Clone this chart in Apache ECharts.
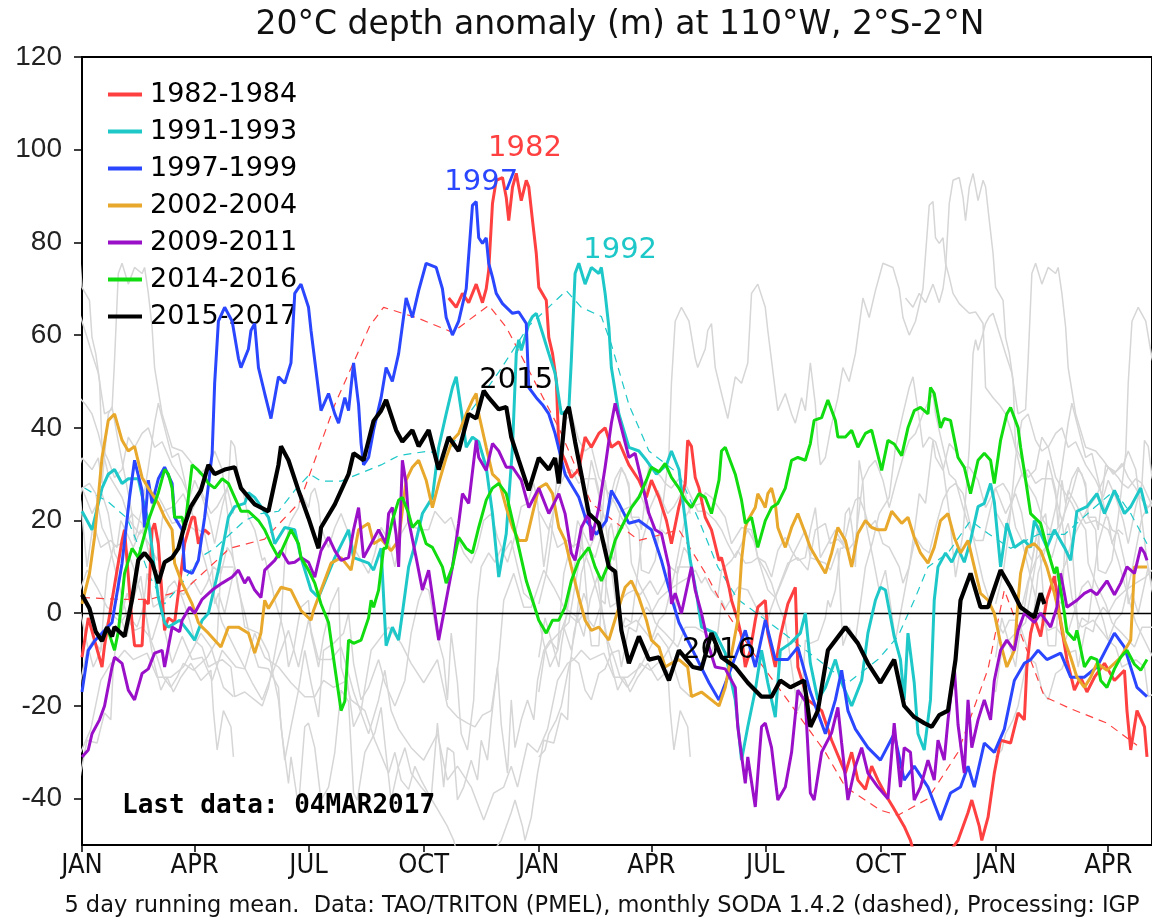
<!DOCTYPE html>
<html><head><meta charset="utf-8">
<script src="https://cdn.jsdelivr.net/npm/echarts@6/dist/echarts.min.js"></script>
<style>html,body{margin:0;padding:0;background:#fff}#c{width:1152px;height:922px}</style>
</head><body><div id="c"></div>
<script>
// ---- text ----
const titleText = '20°C depth anomaly (m) at 110°W, 2°S-2°N';
const footText = '5 day running mean.  Data: TAO/TRITON (PMEL), monthly SODA 1.4.2 (dashed), Processing: IGP';
const lastDataText = 'Last data: 04MAR2017';
// ---- axes (x in days since 1 Jan of first year) ----
const monthTicks = [0, 90, 181, 273, 365, 455, 546, 638, 730, 820];
const monthLabels = ['JAN','APR','JUL','OCT','JAN','APR','JUL','OCT','JAN','APR'];
const yTicks = [-40, -20, 0, 20, 40, 60, 80, 100, 120];
const seriesNames = ['1982-1984','1991-1993','1997-1999','2002-2004','2009-2011','2014-2016','2015-2017'];
const seriesColors = ['#ff4040','#1ec8c8','#2a46ff','#e8a82c','#9a10c8','#10dc10','#000000'];
// ---- values [day, metres] ----
const s1982 = [[0,-9.5],[5,-1],[16,-11.6],[18,-7],[24,2.8],[32,15.7],[34,18],[40,-2],[42,-7],[48,-7],[50,2.8],[53,2],[56,18],[58,19.4],[61,15],[66,-3.7],[69,-1],[74,-2],[82,15],[88,20.7],[90,20.7],[93,15],[96,17.2],[98,18],[102,17],[104,null],
[293,68],[299,66],[304,69],[309,67],[315,71],[320,67],[323,70],[325,74],[328,88.4],[331,93.4],[336,94],[339,89.7],[341,84.7],[344,91.9],[347,94.9],[351,89],[355,93.4],[357,92],[360,84.7],[363,77.6],[365,70.3],[371,67.5],[373,59.5],[376,56],[379,50.2],[381,35.8],[386,33],[391,29.3],[397,31],[402,38],[407,35.8],[413,38.8],[418,40],[423,35.8],[429,37],[437,32],[445,28.7],[451,25],[455,28.7],[461,25],[467,20],[471,15],[477,23],[482,28],[484,37.3],[487,36],[490,29.3],[493,27],[498,20.7],[503,18],[509,11.4],[511,12],[517,5.6],[519,2.8],[524,-1.5],[527,-5],[530,-11.6],[534,-8],[538,-1.5],[540,1.3],[546,2.8],[548,-4.3],[554,-11.6],[558,-5],[564,2],[570,5.6],[572,-11.6],[580,-18.7],[591,-21],[599,-27.4],[610,-34.5],[615,-30],[620,-36],[626,-38],[631,-33],[636,-36],[644,-40],[648,-41.8],[657,-46],[662,-49],[668,-55],[680,-58],[692,-52],[700,-49],[708,-43],[711,-40.3],[717,-46],[719,-49],[724,-44],[729,-34.5],[734,-27.4],[742,-28],[748,-21.5],[753,-23],[755,-11.6],[758,-4.3],[761,-1],[766,-5],[771,3],[777,8],[782,-2],[787,-10],[793,-16.6],[798,-13.8],[803,-17],[809,-13.8],[817,-10.8],[825,-14.5],[833,-12.3],[835,-21],[838,-29.5],[843,-21],[849,-24.5],[851,-31]];
const s1991 = [[0,22],[8,18],[16,27],[21,30],[26,31],[32,28],[37,29],[45,29],[50,23],[53,20],[56,14],[58,9.3],[61,3.4],[66,-2],[69,-3],[78,-1.5],[86,-4.3],[90,-5.8],[96,-1.5],[101,0],[109,9.3],[114,16.4],[117,20.7],[122,23],[130,23.7],[133,26],[138,25],[149,20.7],[154,15],[162,18.5],[170,18],[175,12],[183,5],[189,3.4],[202,12],[213,18],[217,12],[229,10.8],[233,9.3],[239,14],[243,-7],[248,-3],[253,-5.8],[256,0],[261,10],[267,15.7],[272,21.5],[280,25],[285,35.8],[291,43],[296,48.7],[299,51],[304,42],[307,35.8],[312,38],[317,37],[323,31.5],[328,21.5],[333,7.8],[339,17.2],[344,35.8],[347,56],[349,59],[351,56.7],[355,60.4],[357,62.5],[360,64],[363,64.7],[368,60.4],[373,56],[378,51.8],[383,43],[389,44],[391,54.5],[394,73.3],[397,75.5],[402,71],[407,74.6],[413,73.3],[415,74.6],[418,69],[421,61.7],[423,53],[429,43],[437,35.8],[445,35],[451,33],[459,30],[467,32],[471,35],[477,31],[480,24.4],[486,11.4],[491,4.3],[495,-3],[506,-4.3],[514,-8.6],[522,-18.7],[527,-31.7],[532,-24.5],[538,-16.6],[543,-8],[548,-15],[554,-22.4],[558,-8],[566,-6.5],[574,-4.3],[578,0],[582,-10.8],[588,-18.7],[594,-16],[602,-10],[607,-15],[615,-20],[623,-14.5],[628,-4.3],[634,2.8],[638,5.6],[642,5],[649,-5],[654,-10],[657,-18.7],[660,-4.3],[665,-15],[668,-26],[673,-29.5],[678,-18.7],[681,2.8],[684,10],[690,13],[695,11],[700,14],[705,11],[710,15.7],[716,23],[721,23.7],[726,28],[729,24],[734,10],[739,19.4],[745,14.2],[753,15.7],[758,14.2],[761,20],[766,17.2],[771,14.2],[777,18],[785,14.2],[790,11.4],[795,22],[803,23],[811,25.8],[817,21.5],[825,26.5],[833,21.5],[838,23],[846,27],[851,21.5]];
const s1997 = [[0,-17],[5,-8],[10,-6],[24,-2],[32,10.8],[38,25],[42,33],[48,26.5],[50,18.5],[53,28.7],[56,23.7],[61,29],[66,31.5],[72,28],[74,20.7],[80,18],[82,9.3],[88,8.6],[93,11.4],[98,20.7],[104,34.5],[106,49.6],[109,63],[114,66],[120,63],[125,55],[127,53],[133,57],[135,61],[138,62.5],[141,53],[146,47.4],[151,42],[157,51],[162,49.6],[167,54],[170,69],[175,71],[181,66],[183,61],[189,48],[191,43.7],[197,47.4],[202,43],[205,41],[210,46.5],[213,43.7],[217,54],[221,45],[223,36.6],[225,32],[229,33.6],[233,39.5],[239,46.5],[243,53],[248,50],[253,56],[259,68],[264,63.8],[269,69.6],[275,75.5],[283,74.6],[288,70],[291,63.8],[296,60],[301,63],[307,70],[312,88],[315,88.8],[317,81],[320,79.8],[323,81],[325,75.5],[328,72.5],[331,69],[336,66.8],[344,64.7],[349,65],[355,62.5],[357,48.7],[363,46.5],[368,45],[373,43],[378,38.8],[386,30],[397,25],[403,20],[411,17],[419,20],[423,26.5],[429,23.7],[437,19.4],[445,20],[455,18],[463,11.4],[471,3.4],[477,-2],[488,-8],[501,-15],[509,-18.7],[519,-11.6],[530,-3.7],[538,-11.6],[546,-1.5],[554,-10],[564,-10],[572,-7.3],[582,-17],[594,-26],[602,-18.7],[607,-12.3],[612,-21],[618,-25],[628,-29],[638,-31.7],[649,-26],[657,-36],[665,-33],[676,-37.5],[686,-44.6],[694,-38.8],[702,-37.5],[708,-33],[713,-37.5],[721,-28],[729,-30],[737,-25],[745,-14.5],[753,-10.8],[758,-10],[764,-8],[771,-10],[782,-8.6],[790,-13.8],[801,-13.8],[811,-11.6],[825,-4.3],[833,-7.3],[843,-16],[851,-18]];
const s2002 = [[0,2],[6,8.6],[10,16.4],[16,33.6],[21,41.6],[26,43],[32,37.3],[37,35],[42,36],[48,29.3],[53,27],[61,23.7],[66,20.7],[72,18],[74,10.8],[80,6.5],[88,2],[93,-2],[96,-3],[101,-4.3],[111,-7.3],[117,-3],[125,-3],[133,-4.3],[138,-8.6],[143,-4.3],[146,2.8],[149,1],[159,5.6],[167,5],[175,0.6],[183,-1.5],[185,0.6],[191,5],[199,10.8],[207,12],[215,9.3],[221,18],[229,19.4],[233,15],[239,16],[247,13.5],[253,15.7],[259,28.7],[264,31.5],[269,33],[275,28.7],[280,22.8],[285,28],[291,33.6],[296,37.3],[301,38.8],[307,43],[312,46],[315,47.4],[317,43],[323,35.8],[328,30],[333,28.7],[339,22.8],[344,18.5],[349,15.7],[355,15.7],[360,21.5],[365,27],[371,28],[376,25.8],[381,18.5],[386,15.7],[391,10],[397,3.4],[402,-1.5],[407,-3.7],[413,-3],[421,-5.8],[423,-4],[429,1.3],[434,5.6],[439,7],[445,3.4],[451,-1.5],[455,-5.8],[461,-7.3],[466,-11.6],[471,-10.8],[477,-10],[484,-11.6],[487,-18],[495,-17],[503,-18.7],[509,-20],[514,-16],[524,-1.5],[527,11.4],[530,18.5],[532,20],[538,22.8],[540,25.8],[543,24.4],[546,22.8],[548,25.8],[551,27],[554,23.7],[556,18.5],[562,14.2],[567,18.5],[572,21.5],[578,17.2],[582,14.2],[588,11.4],[594,8.6],[599,13],[604,18.5],[610,15.7],[615,10],[620,17.2],[626,20],[631,18.5],[636,18],[642,18],[647,22],[655,19.4],[660,20.7],[665,16.4],[670,13],[676,10.8],[681,14.2],[686,20],[692,21.5],[697,16.4],[702,13],[708,15.7],[713,10],[718,4.3],[724,2.8],[729,0],[734,-6.5],[739,-11.6],[745,-8],[748,2.8],[750,8.6],[755,14.2],[761,15],[766,13.5],[771,10],[777,4.3],[782,-1.5],[785,-5.8],[790,-9.5],[795,-13.8],[801,-16],[806,-13.8],[811,-10.8],[819,-12.3],[825,-10.8],[830,-9.5],[838,-5.8],[841,10],[846,10],[851,10]];
const s2009 = [[0,-31],[5,-29.5],[8,-26],[14,-23],[18,-20],[24,-11.6],[26,-9.5],[32,-10.8],[37,-16.6],[42,-18.7],[48,-13],[53,-12],[58,-8.6],[64,-8],[66,-11.6],[72,-3],[78,-4],[80,-1.5],[86,1.3],[90,0],[96,3],[104,5],[112,6.5],[120,7.8],[125,9.3],[130,6.5],[133,7.8],[138,5],[143,3.4],[146,9.3],[154,11.4],[159,13.5],[165,10.8],[170,11],[175,12],[181,11],[186,7.8],[191,13.5],[197,16.4],[202,13.5],[207,11.4],[213,12],[217,18],[221,22.8],[225,12],[231,15],[237,18],[243,15],[245,21.5],[248,22.8],[251,17],[253,10],[256,33],[259,28],[261,20],[267,12],[272,5],[277,9.3],[282,0],[285,-5.8],[291,2.8],[296,10],[301,19.4],[304,25.8],[309,23.7],[315,37.3],[317,33.6],[323,30.8],[328,36.6],[333,35],[339,31.5],[344,31.5],[351,28.7],[357,22.8],[365,27],[373,21.5],[381,25.8],[386,21.5],[391,13],[394,11.4],[399,18.5],[405,21.5],[407,15.7],[413,22.8],[418,31.5],[423,41],[426,45.3],[431,40],[437,33.6],[442,34.5],[447,28.7],[453,21.5],[458,18],[463,17.2],[469,10],[471,2],[474,4.3],[479,0],[487,10],[490,5],[495,0],[501,-7.3],[506,-11.6],[514,-12],[522,-16],[524,-24.5],[530,-36.7],[532,-31],[538,-41.8],[543,-24.5],[546,-23.7],[551,-29],[556,-40.3],[562,-37.5],[567,-30],[572,-16.6],[578,-19],[582,-38.8],[585,-40.3],[591,-30],[599,-25.8],[604,-20.3],[607,-28],[612,-40.3],[618,-33],[623,-29],[628,-34.5],[636,-37.5],[644,-40],[649,-23.7],[654,-37.5],[657,-29],[662,-30],[665,-40.3],[670,-37.5],[676,-31.7],[681,-36],[684,-27.4],[689,-31.7],[692,-23],[697,-11.6],[700,-24],[705,-34.5],[708,-18.7],[711,-29],[716,-23],[721,-18.7],[726,-23],[729,-14.5],[734,-8],[739,-5.8],[745,-8],[748,-3.7],[753,0],[761,-2],[766,0],[774,-3],[779,1.3],[782,8.6],[787,1.3],[795,2.8],[801,4.3],[806,5],[811,4],[819,7],[825,4],[830,6.5],[835,10],[841,8.6],[846,14.2],[849,13],[851,11.4]];
const s2014 = [[20,-3],[26,-8],[29,-4],[32,3.4],[34,8.6],[40,14],[45,12],[53,20],[61,26],[66,31],[69,30],[72,27],[74,20.7],[80,20.7],[82,18],[85,25],[88,32],[93,30.8],[98,29.3],[101,28],[106,27],[112,29],[117,28],[122,25],[127,22],[133,22],[141,20],[146,18],[151,15],[157,12],[162,15],[167,18],[173,15],[175,12],[181,9.3],[186,6.5],[191,2],[197,-2],[202,-11.6],[207,-21],[210,-19],[213,-5.8],[217,-6.5],[223,-5.8],[229,-1],[231,2.8],[233,1.3],[237,5],[241,14],[243,14],[248,20],[253,24.4],[256,25],[261,21.5],[264,18.5],[269,20],[275,15],[280,14.2],[288,10],[291,6.5],[296,10],[301,16.4],[307,14],[312,13],[317,18.5],[323,24.4],[328,27],[333,28],[339,25.8],[344,20],[349,14.2],[355,7],[360,2.8],[365,-1.5],[371,-4.3],[376,-1.5],[381,-1.5],[386,1.3],[391,7],[397,11.4],[405,14.2],[410,10],[415,7],[421,10.8],[426,15.7],[431,18.5],[439,22.8],[445,25],[451,28.7],[455,31.5],[461,30.5],[466,32.3],[471,29.3],[477,27],[482,24.4],[487,22.8],[493,25.8],[498,25],[503,21.5],[509,28.7],[511,35],[514,35.8],[517,33.6],[522,30],[527,24.4],[530,19.4],[535,20.7],[540,14.2],[546,20],[551,22.8],[556,23.7],[562,27],[567,33],[572,33.6],[578,33],[582,36.6],[585,41.6],[591,42.2],[596,46],[602,41.6],[604,38],[610,38],[615,39.5],[620,35.8],[626,38.8],[631,39.5],[639,30.8],[644,37.3],[649,36.5],[655,34],[660,40],[665,43.7],[670,44.4],[676,43],[678,48.7],[681,47.4],[686,40],[689,42],[694,41.6],[700,33.6],[705,31.5],[710,25.8],[716,33],[721,34.5],[726,33],[729,28],[734,37.3],[739,43],[742,44.4],[748,40],[750,35.8],[755,27],[758,21.5],[766,19.4],[771,14.2],[777,8.6],[779,10],[785,0],[787,-4],[793,-5.8],[795,-3.7],[801,-11.6],[806,-9.5],[811,-10],[814,-14.5],[819,-16],[825,-12],[830,-9.5],[835,-8],[841,-11],[846,-12.3],[851,-10]];
const s2015 = [[0,4],[6,1],[11,-4],[16,-6],[20,-3],[24,-5],[26,-3],[30,-4],[34,-5],[40,3],[45,11.5],[50,13],[56,11],[61,6.5],[66,11],[72,12],[77,14],[82,19],[87,23],[95,26.5],[101,32],[106,30],[114,31],[122,31.5],[127,27],[138,23.5],[149,22],[157,32],[159,36],[165,33],[173,26.5],[181,20.5],[189,14],[191,18.5],[202,23.5],[213,30],[217,34.5],[225,33],[233,41.5],[239,43.7],[243,46],[251,39.5],[256,37],[264,39.5],[269,36],[277,39.5],[285,31],[293,38],[301,35],[309,43],[315,42],[321,48],[325,46.5],[333,44],[339,44.5],[343,38],[349,33],[357,26.5],[365,33.5],[373,31],[378,33.5],[381,28],[386,43],[389,44.5],[394,37],[399,30],[405,21.5],[413,19.4],[421,10],[426,9],[431,-3.7],[437,-10.8],[445,-5],[453,-10],[461,-9.5],[469,-14.5],[477,-8],[488,-11.6],[495,-12],[503,-4.3],[511,-9.5],[522,-11.6],[532,-15],[543,-18],[551,-18],[558,-14.5],[566,-16],[577,-14.5],[582,-24.5],[588,-21],[596,-8],[610,-3],[620,-6.5],[628,-10.8],[638,-15],[649,-10],[657,-20],[665,-22.4],[673,-23.7],[679,-24.5],[685,-22],[692,-21],[698,-10],[702,2.8],[710,8.6],[718,1.3],[724,1.3],[734,9.3],[742,5.6],[750,1.3],[761,-0.9],[766,4.3],[769,2]];
// monthly SODA 1.4.2 values (dashed)
const soda1982 = [[0,3.4],[30,3],[54,3],[82,5],[118,14],[146,16],[174,24],[202,45],[230,62],[241,66],[269,63.6],[296,60.6],[325,66.4],[339,61.7],[353,54.5],[381,40],[407,23.7],[445,15.7],[477,18],[500,7.8],[514,0.6],[540,-10],[564,-18.8],[594,-30],[610,-37.5],[638,-42.5],[652,-43.6],[676,-40],[700,-30],[724,-12],[737,5],[755,-8],[769,-18],[790,-20.6],[819,-23.7],[843,-28.5]];
const soda1991 = [[2,27],[21,24],[36,20.5],[46,14],[54,8],[66,2],[80,6.5],[94,12],[106,14],[130,20],[143,21.5],[157,22],[170,26.5],[182,30],[191,28.5],[207,28.5],[239,32],[253,34],[277,35],[291,33.6],[309,43],[333,52],[357,62],[387,69.6],[399,66],[415,64],[423,58],[437,45],[453,35],[477,30],[493,20],[508,10],[524,3],[544,-1],[564,-5],[588,-10],[612,-15],[636,-10],[652,-5],[665,2.8],[676,10],[692,13],[710,20],[724,17.2],[742,14],[764,17],[785,17],[809,22.8],[825,26.5],[838,21.5],[851,15]];
// year labels placed in data coordinates
const yearLabels = [
  {text:'1982', day:354, value:100.3, color:'#ff4040'},
  {text:'1997', day:319, value:93, color:'#2a46ff'},
  {text:'1992', day:430, value:78.3, color:'#1ec8c8'},
  {text:'2015', day:347, value:50.2, color:'#000000'},
  {text:'2016', day:509, value:-8, color:'#000000'}
];

const mainData = [s1982, s1991, s1997, s2002, s2009, s2014, s2015];
const clean = arr => arr.map(p => [p[0], p[1] === null ? '-' : p[1]]);
// other 3-year windows overlap these records shifted by whole years
const shifted = (arr, off) => arr.map(p => [p[0] + off, p[1] === null ? '-' : p[1]]);

const series = [];
const greyStyle = {color:'#d6d6d6', width:1.5};
const greySets = [
  [s1982, [-730,-365,365,730]], [s1991, [-730,-365,365,730]], [s1997, [-730,-365,365,730]],
  [s2002, [-730,-365,365,730]], [s2009, [-730,-365,365,730]], [s2014, [365,730]], [s2015, [-365,-730]]
];
greySets.forEach(([arr, offs]) => offs.forEach(o => series.push({
  type:'line', name:'other', data:shifted(arr, o), showSymbol:false, symbol:'none',
  lineStyle:greyStyle, silent:true, z:1
})));
// zero line
series.push({type:'line', name:'zero', data:[], silent:true, z:2,
  markLine:{silent:true, symbol:'none', label:{show:false},
    lineStyle:{color:'#000', width:1.3, type:'solid'}, data:[{yAxis:0}]}});
// dashed SODA
[[soda1982, seriesColors[0]], [soda1991, seriesColors[1]]].forEach(([arr, c]) => series.push({
  type:'line', name:'SODA', data:arr, showSymbol:false, symbol:'none', silent:true, z:3,
  lineStyle:{color:c, width:1.2, type:[8,6]}
}));
mainData.forEach((arr, i) => series.push({
  type:'line', name:seriesNames[i], data:clean(arr), showSymbol:false, symbol:'none',
  lineStyle:{color:seriesColors[i], width: i === 6 ? 4.2 : 3}, itemStyle:{color:seriesColors[i]},
  z: 4 + i
}));

const chart = echarts.init(document.getElementById('c'), null, {renderer:'canvas'});
const baseGraphic = [
  {type:'text', x:620, y:25, style:{text:titleText, fontSize:33, fontFamily:'DejaVu Sans', fill:'#111', align:'center', verticalAlign:'middle'}},
  {type:'text', x:122, y:806, style:{text:lastDataText, fontSize:26, fontWeight:'bold', fontFamily:'DejaVu Sans Mono', fill:'#000', verticalAlign:'middle'}, z:30},
  {type:'text', x:602, y:906, style:{text:footText, fontSize:22.5, fontFamily:'DejaVu Sans', fill:'#111', align:'center', verticalAlign:'middle'}}
];
chart.setOption({
  animation:false,
  backgroundColor:'#fff',
  grid:{left:82, top:57, right:-3, bottom:77, show:true, borderColor:'#000', borderWidth:2, backgroundColor:'transparent'},
  legend:{
    data:seriesNames, orient:'vertical', left:103, top:76, icon:'rect', itemWidth:34, itemHeight:4,
    itemGap:10, textStyle:{fontSize:27, lineHeight:27, color:'#000', fontFamily:'DejaVu Sans', padding:[0,0,0,3]},
    selectedMode:false
  },
  xAxis:{
    type:'value', min:0, max:855,
    axisLine:{show:true, onZero:false, lineStyle:{color:'#000', width:2}},
    axisTick:{show:true, customValues:monthTicks, length:7, inside:false, lineStyle:{color:'#000', width:1.5}},
    axisLabel:{show:true, customValues:monthTicks, margin:7, color:'#111', fontSize:27,
      fontFamily:"'DejaVu Sans Condensed',sans-serif",
      formatter:v => { const k = monthTicks.indexOf(v); return k >= 0 ? monthLabels[k] : ''; }},
    splitLine:{show:false}
  },
  yAxis:{
    type:'value', min:-50, max:120,
    axisLine:{show:true, lineStyle:{color:'#000', width:2}},
    axisTick:{show:true, customValues:yTicks, length:8, inside:false, lineStyle:{color:'#000', width:1.5}},
    axisLabel:{show:true, customValues:yTicks, margin:20, color:'#222', fontSize:28,
      fontFamily:"'Liberation Sans',sans-serif"},
    splitLine:{show:false}
  },
  graphic: baseGraphic,
  series: series
});
// year annotations: data coordinates -> pixels through the chart's own axes
const labelGraphic = yearLabels.map(l => {
  const p = chart.convertToPixel({gridIndex:0}, [l.day, l.value]);
  return {type:'text', x:p[0], y:p[1], z:25, style:{text:l.text, fill:l.color, fontSize:29,
    fontFamily:'DejaVu Sans', align:'center', verticalAlign:'middle'}};
});
chart.setOption({graphic: baseGraphic.concat(labelGraphic)});
</script></body></html>
